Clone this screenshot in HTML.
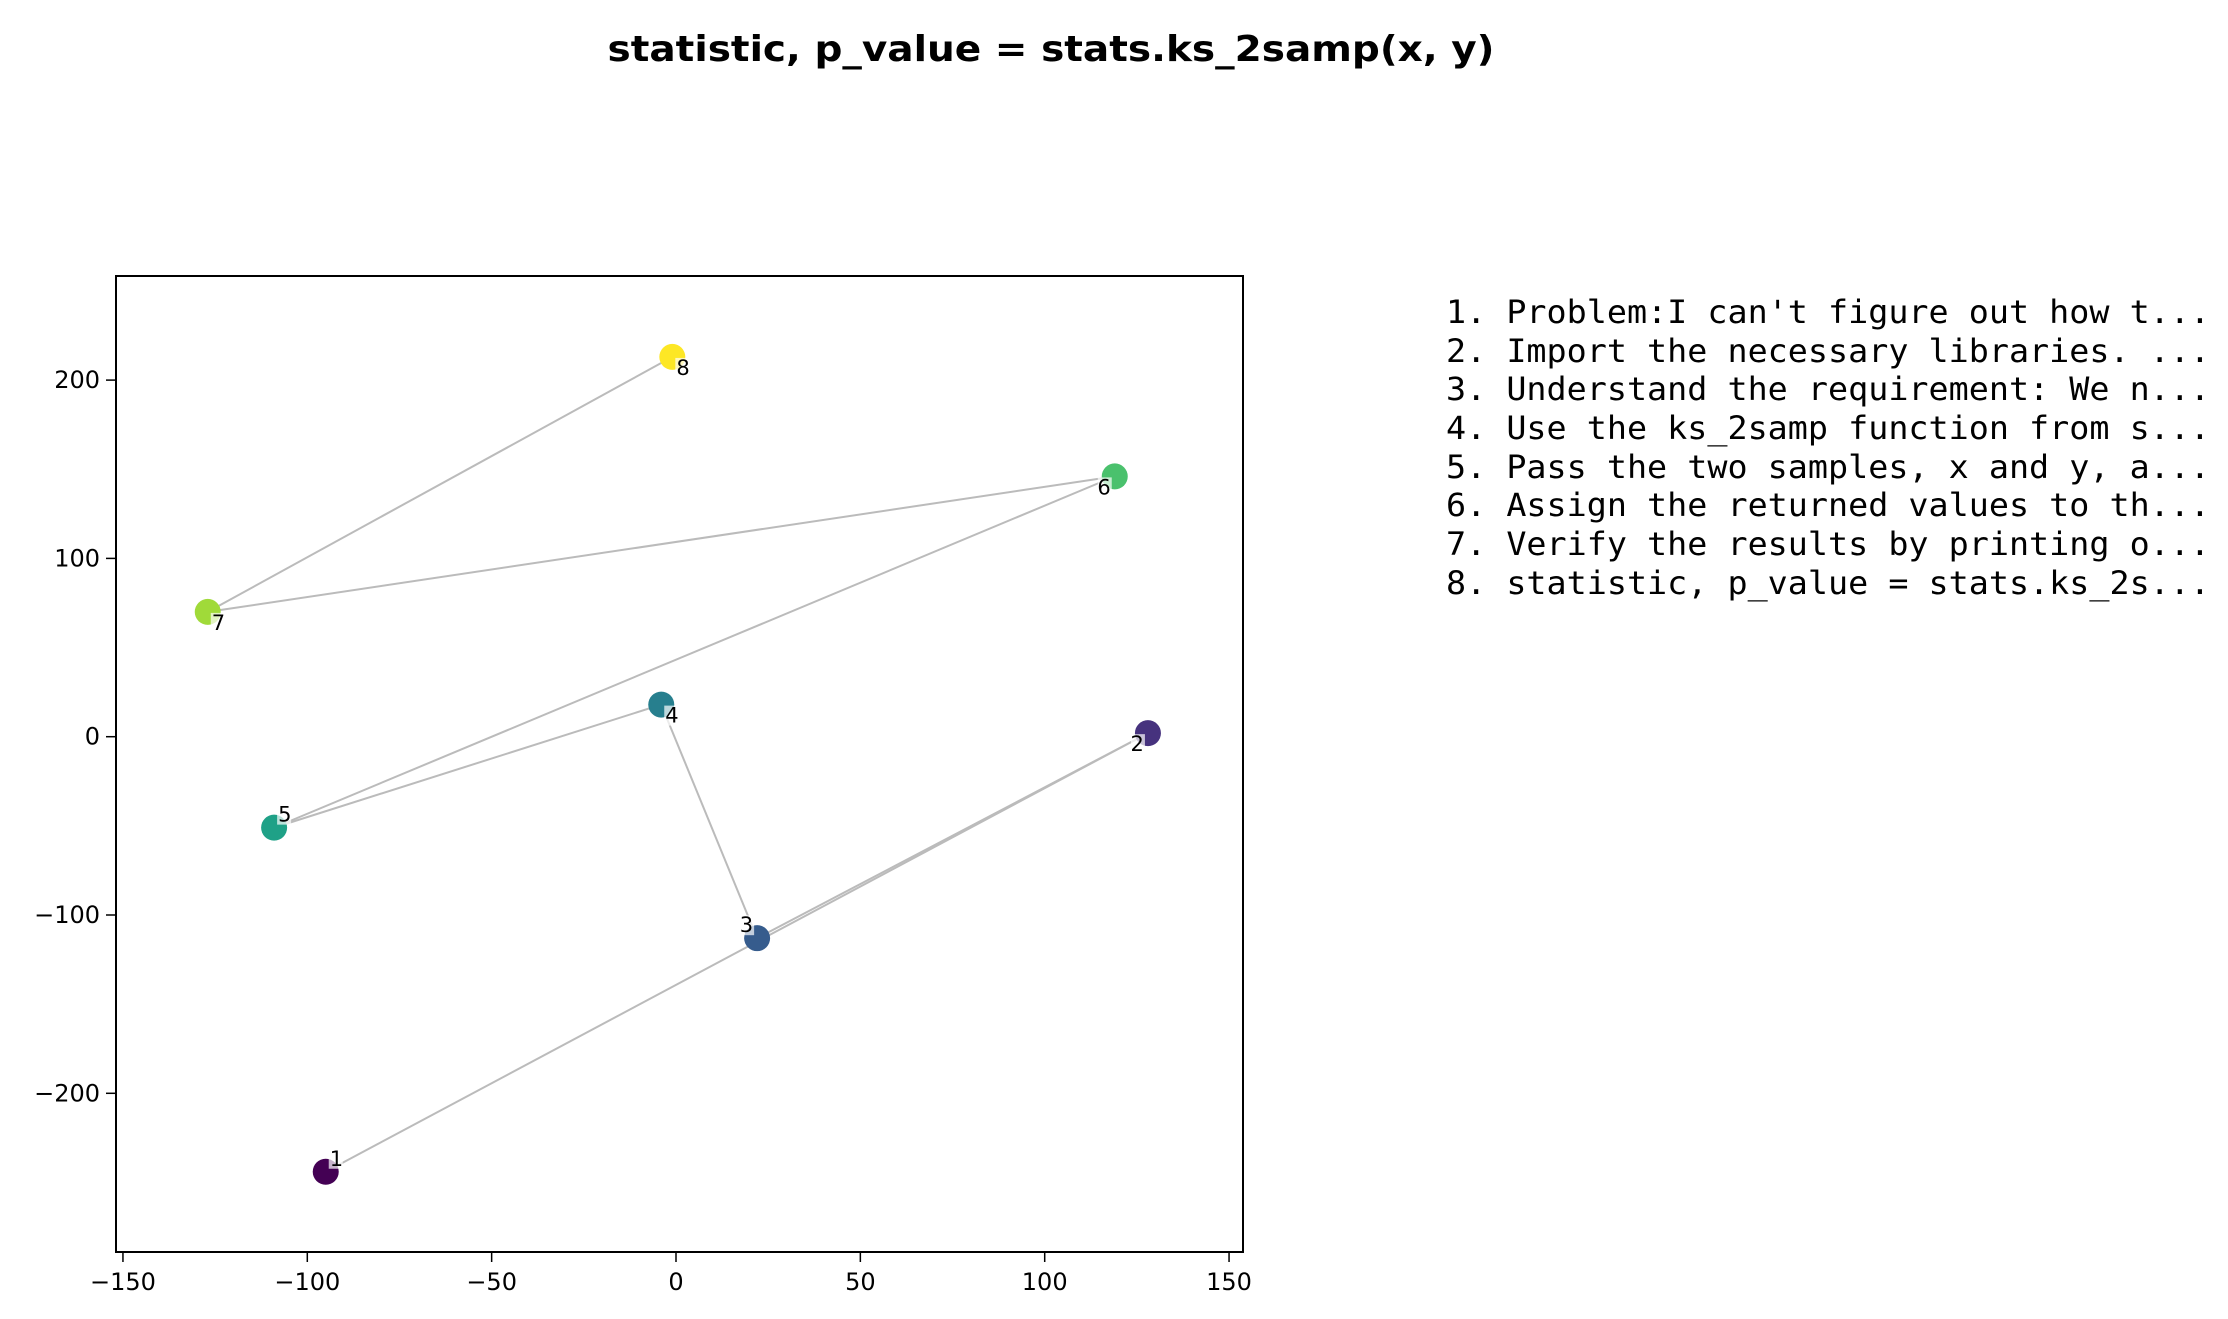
<!DOCTYPE html>
<html><head><meta charset="utf-8"><style>
html,body{margin:0;padding:0;background:#fff}
svg{display:block}
</style></head><body>
<svg id="chart" width="2228" height="1319" xmlns="http://www.w3.org/2000/svg" font-family="'DejaVu Sans','Liberation Sans',sans-serif">
<text x="1051" y="61" text-anchor="middle" font-weight="bold" font-size="36" textLength="887" lengthAdjust="spacingAndGlyphs">statistic, p_value = stats.ks_2samp(x, y)</text>
<g id="plot"></g>
<g font-family="'DejaVu Sans Mono','Liberation Mono',monospace" font-size="32">
<text x="1446" y="323" textLength="764" lengthAdjust="spacingAndGlyphs">1. Problem:I can't figure out how t...</text>
<text x="1446" y="362" textLength="764" lengthAdjust="spacingAndGlyphs">2. Import the necessary libraries. ...</text>
<text x="1446" y="400" textLength="764" lengthAdjust="spacingAndGlyphs">3. Understand the requirement: We n...</text>
<text x="1446" y="439" textLength="764" lengthAdjust="spacingAndGlyphs">4. Use the ks_2samp function from s...</text>
<text x="1446" y="478" textLength="764" lengthAdjust="spacingAndGlyphs">5. Pass the two samples, x and y, a...</text>
<text x="1446" y="516" textLength="764" lengthAdjust="spacingAndGlyphs">6. Assign the returned values to th...</text>
<text x="1446" y="555" textLength="764" lengthAdjust="spacingAndGlyphs">7. Verify the results by printing o...</text>
<text x="1446" y="594" textLength="764" lengthAdjust="spacingAndGlyphs">8. statistic, p_value = stats.ks_2s...</text>
</g>
</svg>
<script>
const labels = ["1","2","3","4","5","6","7","8"];
const xs = [-95, 128, 22, -4, -109, 119, -127, -1];
const ys = [-244, 2, -113, 18, -51, 146, 70, 213];
const colors = ["#440154","#46327e","#365c8d","#277f8e","#1fa187","#4ac16d","#a0da39","#fde725"];
const xTicks = [-150,-100,-50,0,50,100,150];
const yTicks = [-200,-100,0,100,200];
const labelOffsets = [[4,-6,"start"],[-4,18,"end"],[-4,-6,"end"],[4,18,"start"],[4,-6,"start"],[-4,18,"end"],[4,18,"start"],[4,18,"start"]];

const NS = "http://www.w3.org/2000/svg";
const L = 116, R = 1243, T = 276, B = 1252;
function sx(v){ return 676 + v * 3.687; }
function sy(v){ return 736.7 - v * 1.783; }
const g = document.getElementById('plot');
function mk(tag, attrs, parent){
  const e = document.createElementNS(NS, tag);
  for (const k in attrs) e.setAttribute(k, attrs[k]);
  (parent || g).appendChild(e);
  return e;
}
for (let i = 0; i < xs.length - 1; i++) {
  const ln = mk('line', {x1: sx(xs[i]), y1: sy(ys[i]), x2: sx(xs[i+1]), y2: sy(ys[i+1]), stroke: '#bbbbbb', 'stroke-width': 2});
  
  
}
for (let i = 0; i < xs.length; i++) {
  const c = mk('circle', {cx: sx(xs[i]), cy: sy(ys[i]), r: 13, fill: colors[i]});
  
  
}
for (let i = 0; i < xs.length; i++) {
  const o = labelOffsets[i];
  const px = sx(xs[i]) + o[0], py = sy(ys[i]) + o[1];
  const bw = 14, bh = 20;
  const bx = o[2] === 'start' ? px - 1 : px - bw + 1;
  const r = mk('rect', {x: bx, y: py - 17, width: bw, height: bh, fill: '#fff', 'fill-opacity': 0.7});
  
  
  const t = mk('text', {x: px, y: py, 'text-anchor': o[2], 'font-size': 21});
  t.textContent = labels[i];
  
  
}
const fr = mk('rect', {x: L, y: T, width: R - L, height: B - T, fill: 'none', stroke: '#000', 'stroke-width': 2});


for (const v of xTicks) {
  const x = sx(v);
  const tk = mk('line', {x1: x, y1: B, x2: x, y2: B + 10, stroke: '#000', 'stroke-width': 1.5});
  
  
  const t = mk('text', {x: x, y: B + 38, 'text-anchor': 'middle', 'font-size': 24});
  t.textContent = v < 0 ? '\u2212' + Math.abs(v) : String(v);
  
  
}
for (const v of yTicks) {
  const y = sy(v);
  const tk = mk('line', {x1: L - 10, y1: y, x2: L, y2: y, stroke: '#000', 'stroke-width': 1.5});
  
  
  const t = mk('text', {x: L - 16, y: y + 8, 'text-anchor': 'end', 'font-size': 24});
  t.textContent = v < 0 ? '\u2212' + Math.abs(v) : String(v);
  
  
}
</script>
</body></html>
